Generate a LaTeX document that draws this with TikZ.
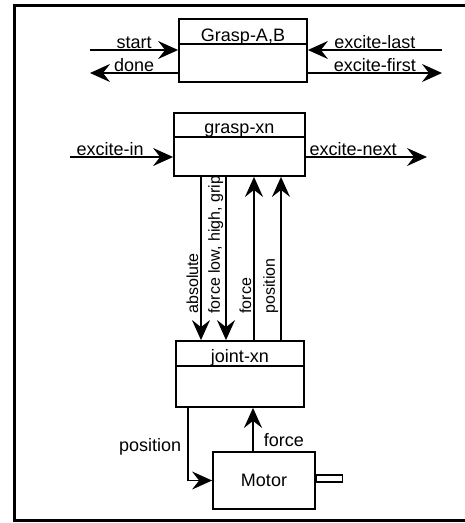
\documentclass[tikz,border=0pt]{standalone}
\usepackage{fontspec}
\setmainfont{Liberation Sans}
\usetikzlibrary{arrows.meta}

\begin{document}
\begin{tikzpicture}[x=1pt, y=-1pt, font=\fontsize{18}{20}\selectfont,
		blk/.style={draw, line width=1.8pt, inner sep=0pt},
		ttl/.style={anchor=base, inner sep=0pt},
		sig/.style={line width=1.6pt, -{Stealth[length=20pt, width=18pt, inset=7pt]}},
		lbl/.style={anchor=base, inner sep=0pt, yshift=2pt},
		vlbl/.style={rotate=90, anchor=south west, inner sep=2pt, font=\fontsize{16}{18}\selectfont}]
	\useasboundingbox (0,0) rectangle (464,523);
	\draw[line width=3pt] (470,5.5) -- (14.5,5.5) -- (14.5,520) -- (470,520);
	% top level block
	\node[blk, minimum width=128pt, minimum height=63pt] (graspab) at (243,50.5) {};
	\node[ttl] (graspabt) at ([yshift=-23pt]graspab.north) {Grasp-A,B};
	\draw[line width=1.8pt] ([yshift=-26pt]graspab.north west) -- ([yshift=-26pt]graspab.north east);
	\coordinate (startin) at (90,50);
	\coordinate (doneout) at (90,73);
	\coordinate (lastin) at (442,50);
	\coordinate (firstout) at (442,73);
	\draw[sig] (startin) -- (startin -| graspab.west) node[lbl, midway] {start};
	\draw[sig] (doneout -| graspab.west) -- (doneout) node[lbl, midway] {done};
	\draw[sig] (lastin) -- (lastin -| graspab.east) node[lbl, midway] {excite-last};
	\draw[sig] (firstout -| graspab.east) -- (firstout) node[lbl, midway] {excite-first};
	% grasp-xn
	\node[blk, minimum width=131pt, minimum height=63pt] (graspxn) at (239.5,144.5) {};
	\node[ttl] (graspxnt) at ([yshift=-21pt]graspxn.north) {grasp-xn};
	\draw[line width=1.8pt] ([yshift=-25pt]graspxn.north west) -- ([yshift=-25pt]graspxn.north east);
	\coordinate (excitein) at (70,157);
	\coordinate (nextout) at (427,157);
	\draw[sig] (excitein) -- (excitein -| graspxn.west) node[lbl, pos=0.39] {excite-in};
	\draw[sig] (nextout -| graspxn.east) -- (nextout) node[lbl, pos=0.39] {excite-next};
	% joint-xn
	\node[blk, minimum width=128pt, minimum height=66pt] (jointxn) at (240,374) {};
	\node[ttl] (jointxnt) at ([yshift=-22pt]jointxn.north) {joint-xn};
	\draw[line width=1.8pt] ([yshift=-26pt]jointxn.north west) -- ([yshift=-26pt]jointxn.north east);
	\draw[sig] ([xshift=-38.5pt]graspxn.south) -- ([xshift=-38.5pt]graspxn.south |- jointxn.north)
		node[vlbl, pos=0.855] {absolute};
	\draw[sig] ([xshift=-13.5pt]graspxn.south) -- ([xshift=-13.5pt]graspxn.south |- jointxn.north)
		node[vlbl, pos=0.855] {force low, high, grip};
	\draw[sig] ([xshift=14.5pt]graspxn.south |- jointxn.north) -- ([xshift=14.5pt]graspxn.south)
		node[vlbl, pos=0.145] {force};
	\draw[sig] ([xshift=41.5pt]graspxn.south |- jointxn.north) -- ([xshift=41.5pt]graspxn.south)
		node[vlbl, pos=0.145] {position};
	% motor
	\node[blk, minimum width=102pt, minimum height=57pt] (motor) at (264,480.5) {Motor};
	\node[draw, line width=1.5pt, minimum width=26pt, minimum height=7pt, inner sep=0pt, anchor=west]
		(shaft) at ([yshift=2pt]motor.east) {};
	\draw[sig] ([xshift=-52pt]jointxn.south) |- (motor.west)
		node[pos=0.27, left=6pt, inner sep=0pt] {position};
	\draw[sig] ([xshift=-11pt]motor.north) -- ([xshift=-11pt]motor.north |- jointxn.south)
		node[pos=0.25, right=10pt, inner sep=0pt] {force};
\end{tikzpicture}
\end{document}
